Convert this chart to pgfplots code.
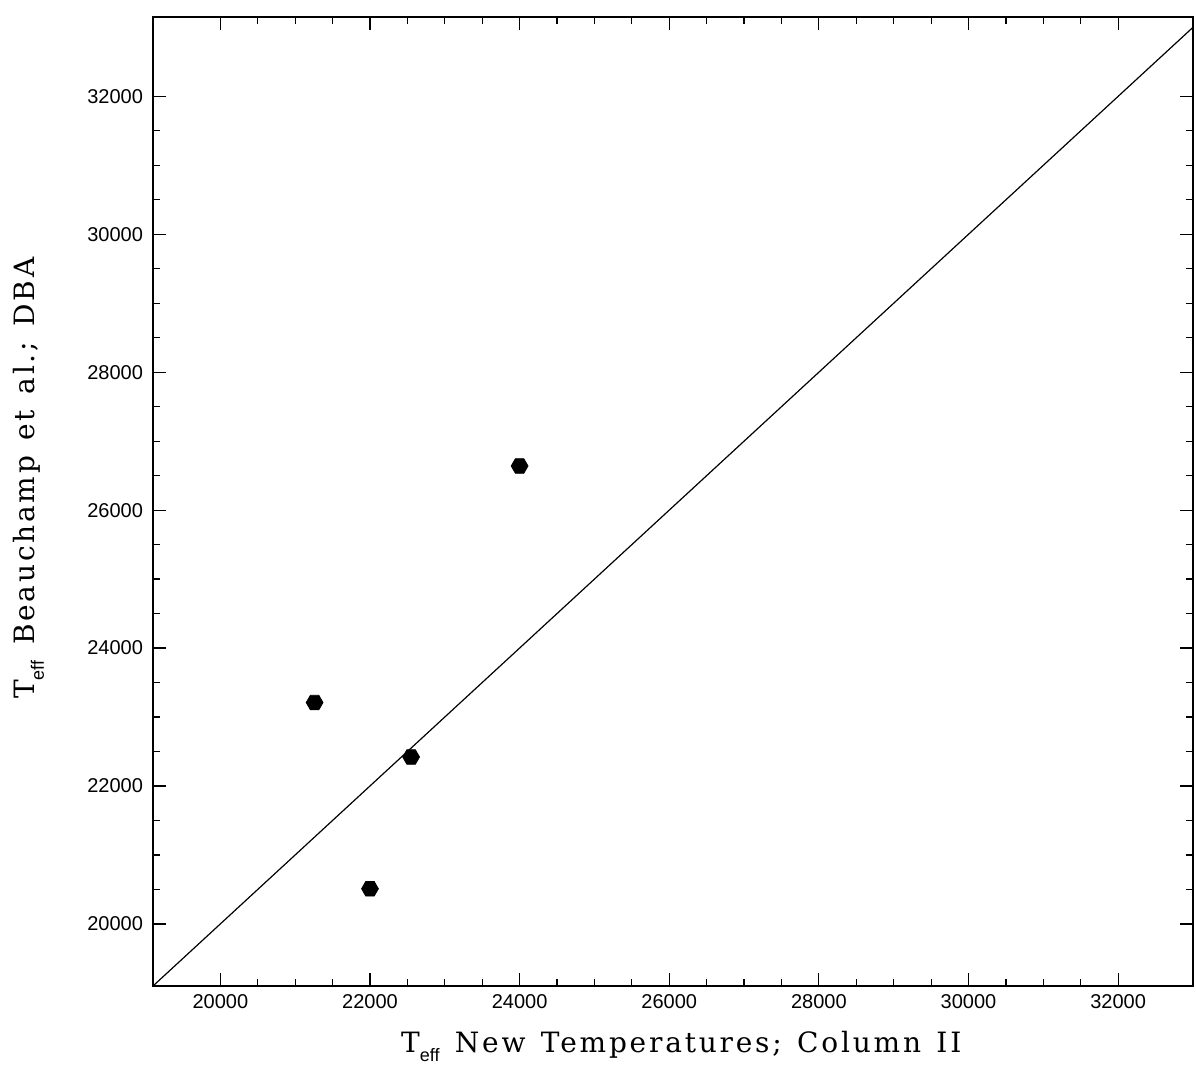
\documentclass[border=0pt]{standalone}
\usepackage{fontspec}
\setmainfont{Liberation Serif}
\newfontfamily\tickfont{Liberation Sans}
\newfontfamily\subfont{Liberation Sans}
\newfontfamily\labfont[LetterSpace=10]{DejaVu Serif}
\usepackage{pgfplots}
\pgfplotsset{compat=1.18}
\pgfdeclareplotmark{hexa}{%
  \pgfpathmoveto{\pgfqpointpolar{0}{\pgfplotmarksize}}%
  \pgfpathlineto{\pgfqpointpolar{60}{\pgfplotmarksize}}%
  \pgfpathlineto{\pgfqpointpolar{120}{\pgfplotmarksize}}%
  \pgfpathlineto{\pgfqpointpolar{180}{\pgfplotmarksize}}%
  \pgfpathlineto{\pgfqpointpolar{240}{\pgfplotmarksize}}%
  \pgfpathlineto{\pgfqpointpolar{300}{\pgfplotmarksize}}%
  \pgfpathclose
  \pgfusepathqfillstroke}
\newcommand{\ws}{\hspace{0.55em}}
\newcommand{\Teff}{{\labfont T}\raisebox{-4.5pt}{\subfont\fontsize{9}{9}\selectfont eff}}
\begin{document}
\begin{tikzpicture}
\useasboundingbox (-76.5pt,-40.5pt) rectangle (521.5pt,493pt);
\begin{axis}[
  scale only axis,
  width=520pt, height=484.5pt,
  at={(0,0)}, anchor=south west,
  xmin=19100, xmax=33000,
  ymin=19100, ymax=33150,
  xtick={20000,22000,...,32000},
  ytick={20000,22000,...,32000},
  scaled ticks=false,
  minor x tick num=3,
  minor y tick num=3,
  tick align=inside,
  major tick length=6.5pt,
  minor tick length=3.5pt,
  tick style={black, line width=0.6pt},
  axis line style={black, line width=0.7pt},
  /pgf/number format/assume math mode=true,
  /pgf/number format/1000 sep={},
  ticklabel style={font=\tickfont\fontsize{10}{10}\selectfont},
  yticklabel style={xshift=-1.5pt},
  xticklabel style={yshift=-0.5pt},
  xlabel={\Teff\ws{\labfont\fontsize{14}{14}\selectfont New\ws Temperatures;\ws Column\ws II}},
  ylabel={\Teff\ws{\labfont\fontsize{14}{14}\selectfont Beauchamp\ws et\ws al.;\ws DBA}},
  xlabel style={at={(axis description cs:0.508,-0.069)}, anchor=base, font=\labfont\fontsize{14}{14}\selectfont},
  ylabel style={at={(axis description cs:-0.1135,0.524)}, anchor=base, rotate=0, font=\labfont\fontsize{14}{14}\selectfont},
]
\addplot[black, line width=0.6pt, no marks] coordinates {(19100,19100) (33000,33000)};
\addplot[only marks, mark=hexa, mark size=4.2pt, black, fill=black] coordinates {
  (24000,26640)
  (21260,23210)
  (22550,22420)
  (22000,20510)
};
\end{axis}
\end{tikzpicture}
\end{document}
